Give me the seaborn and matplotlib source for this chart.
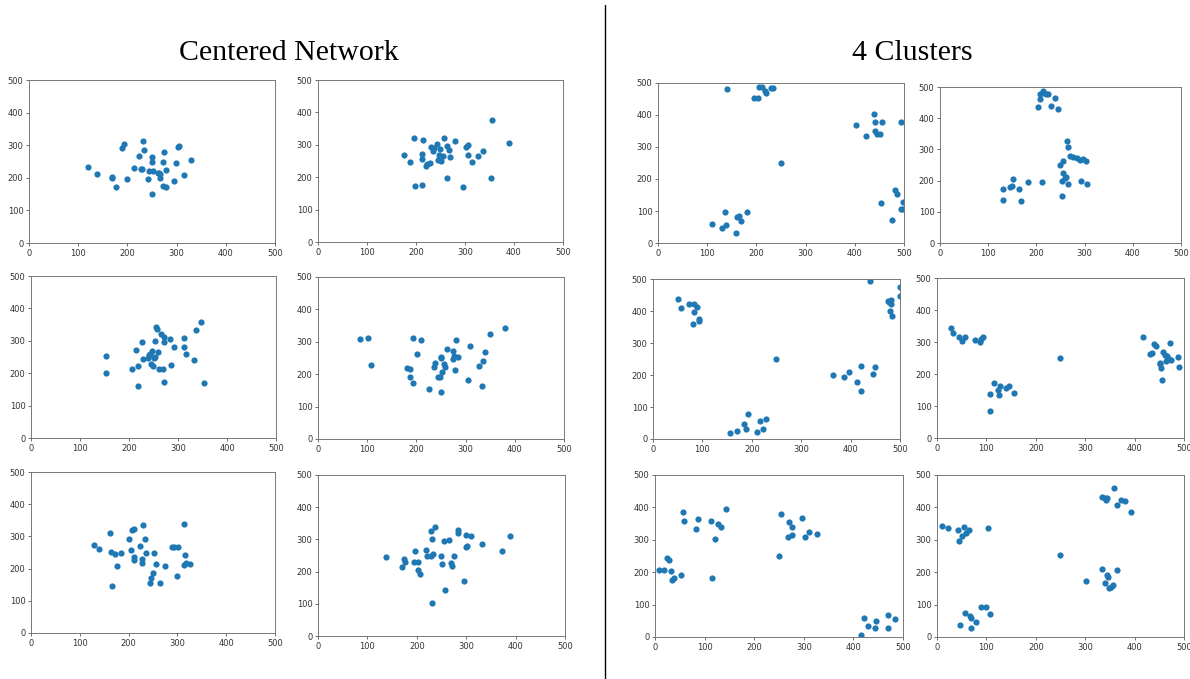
import numpy as np
import pandas as pd
import seaborn as sns
import matplotlib.pyplot as plt
from matplotlib.lines import Line2D

# ---- data (x, y per panel) ----
# Centered Network
cn1_x = [119, 139, 169, 169, 176, 200, 190, 193, 213, 223, 227, 230, 232, 234, 242, 244, 250, 251,
         251, 253, 262, 265, 267, 266, 273, 274, 273, 278, 279, 295, 298, 303, 305, 315, 330]
cn1_y = [233, 211, 203, 199, 172, 195, 291, 303, 231, 268, 227, 227, 314, 284, 195, 220, 149, 263,
         248, 222, 214, 216, 211, 198, 249, 278, 174, 172, 224, 191, 245, 296, 299, 209, 255]
cn2_x = [176, 188, 195, 197, 212, 212, 212, 214, 220, 223, 229, 231, 234, 237, 242, 245, 246, 249,
         252, 255, 258, 263, 264, 268, 270, 279, 296, 303, 307, 306, 314, 326, 336, 354, 356, 390]
cn2_y = [269, 248, 321, 174, 175, 271, 257, 315, 234, 241, 243, 292, 280, 291, 301, 252, 270, 288,
         250, 265, 320, 197, 296, 283, 261, 312, 169, 294, 298, 269, 248, 266, 281, 199, 377, 307]
cn3_x = [154, 153, 206, 214, 218, 218, 227, 228, 238, 240, 242, 245, 247, 248, 251, 253, 253, 255,
         258, 259, 262, 265, 270, 271, 271, 272, 284, 285, 291, 313, 313, 316, 333, 337, 347, 354]
cn3_y = [253, 201, 213, 271, 221, 159, 297, 243, 246, 255, 259, 227, 269, 222, 246, 299, 249, 343,
         336, 265, 214, 321, 214, 312, 297, 172, 305, 225, 282, 308, 280, 260, 241, 333, 359, 170]
cn4_x = [85, 102, 108, 181, 186, 188, 194, 194, 201, 209, 226, 236, 238, 243, 247, 249, 250, 251,
         253, 257, 259, 262, 274, 275, 276, 278, 280, 285, 305, 309, 328, 333, 335, 339, 350, 381]
cn4_y = [309, 311, 229, 218, 216, 192, 173, 311, 263, 305, 155, 221, 235, 192, 192, 250, 253, 144,
         208, 230, 223, 277, 248, 273, 256, 212, 307, 254, 182, 286, 226, 163, 240, 267, 323, 344]
cn5_x = [130, 140, 161, 163, 165, 173, 177, 184, 201, 204, 206, 211, 211, 212, 223, 227, 227, 229,
         234, 236, 244, 246, 251, 253, 256, 264, 275, 288, 294, 300, 302, 313, 315, 314, 317, 326]
cn5_y = [273, 261, 311, 253, 146, 245, 207, 249, 291, 259, 320, 324, 236, 227, 270, 229, 216, 336,
         293, 249, 156, 171, 186, 247, 213, 156, 207, 266, 266, 176, 266, 338, 243, 212, 216, 213]
cn6_x = [138, 170, 175, 176, 195, 197, 203, 203, 206, 219, 221, 228, 229, 231, 231, 233, 237, 249,
         250, 255, 258, 265, 269, 271, 275, 283, 284, 295, 299, 300, 302, 309, 332, 373, 389]
cn6_y = [244, 213, 240, 229, 229, 263, 229, 206, 193, 266, 247, 248, 325, 300, 102, 254, 337, 249,
         225, 295, 144, 299, 228, 218, 247, 328, 320, 172, 314, 275, 280, 312, 285, 264, 310]

# 4 Clusters
kc1_x = [140, 196, 204, 206, 212, 218, 219, 229, 234, 249, 109, 131, 139, 136, 158, 161, 165, 169,
         181, 403, 423, 439, 442, 442, 446, 452, 455, 453, 493, 476, 482, 486, 494, 497, 498]
kc1_y = [480, 453, 453, 487, 489, 475, 469, 484, 484, 251, 59, 46, 55, 96, 31, 80, 84, 69,
         96, 368, 333, 403, 350, 379, 341, 341, 377, 124, 379, 71, 166, 152, 107, 127, 106]
kc2_x = [130, 131, 145, 149, 152, 163, 168, 183, 211, 203, 208, 207, 214, 216, 219, 224, 230, 239,
         244, 248, 254, 254, 256, 256, 259, 262, 265, 264, 265, 269, 275, 284, 290, 293, 297, 302, 306]
kc2_y = [138, 172, 179, 183, 204, 172, 136, 194, 196, 437, 461, 479, 487, 482, 479, 477, 438, 466,
         429, 250, 151, 198, 224, 264, 207, 210, 190, 326, 307, 278, 277, 273, 267, 200, 270, 264, 190]
kc3_x = [51, 56, 72, 84, 89, 84, 80, 93, 94, 155, 171, 184, 189, 192, 210, 217, 222, 228, 248,
         364, 386, 397, 413, 422, 422, 445, 450, 440, 475, 478, 482, 482, 480, 483, 499, 499]
kc3_y = [436, 408, 421, 423, 414, 397, 358, 374, 370, 20, 24, 48, 31, 78, 22, 57, 31, 61, 250,
         200, 195, 209, 179, 227, 149, 202, 224, 494, 431, 428, 434, 422, 400, 384, 475, 448]
kc4_x = [28, 32, 44, 50, 57, 77, 88, 90, 94, 107, 108, 115, 124, 125, 128, 140, 146, 155, 248,
         417, 431, 435, 439, 443, 451, 452, 454, 455, 458, 461, 464, 466, 470, 474, 472, 487, 490]
kc4_y = [345, 328, 317, 303, 316, 305, 299, 308, 317, 85, 136, 171, 150, 135, 164, 157, 164, 141, 251,
         317, 261, 266, 293, 289, 230, 234, 219, 182, 269, 260, 240, 255, 247, 245, 298, 252, 222]
kc5_x = [9, 18, 24, 29, 33, 34, 38, 52, 57, 58, 82, 86, 112, 115, 121, 127, 134, 143, 249,
         254, 268, 271, 277, 277, 296, 302, 311, 327, 415, 421, 430, 443, 445, 469, 469, 484]
kc5_y = [206, 208, 244, 237, 204, 176, 183, 192, 385, 358, 333, 363, 358, 183, 301, 349, 340, 394, 250,
         379, 310, 355, 338, 314, 366, 310, 323, 319, 5, 59, 35, 29, 50, 68, 29, 56]
kc6_x = [11, 23, 42, 45, 50, 55, 59, 65, 104, 46, 57, 66, 69, 69, 79, 89, 99, 108, 249,
         301, 333, 341, 344, 347, 348, 353, 357, 365, 335, 340, 342, 345, 359, 364, 373, 381, 393]
kc6_y = [342, 337, 330, 296, 312, 340, 321, 330, 335, 38, 73, 64, 59, 27, 47, 94, 94, 70, 253,
         174, 211, 168, 191, 184, 151, 155, 160, 208, 432, 428, 423, 428, 460, 407, 424, 421, 386]

TICKS = [0, 100, 200, 300, 400, 500]

# panels: (x, y, left, top, right, bottom) in pixels of the 1190x679 canvas
PANELS = [
    (cn1_x, cn1_y, 29, 80, 275, 243),
    (cn2_x, cn2_y, 318, 80, 563, 242),
    (cn3_x, cn3_y, 31, 276, 276, 438),
    (cn4_x, cn4_y, 318, 277, 564, 439),
    (cn5_x, cn5_y, 31, 472, 275, 633),
    (cn6_x, cn6_y, 318, 475, 565, 636),
    (kc1_x, kc1_y, 658, 83, 904, 243),
    (kc2_x, kc2_y, 940, 87, 1181, 243),
    (kc3_x, kc3_y, 653, 279, 900, 439),
    (kc4_x, kc4_y, 937, 278, 1184, 438),
    (kc5_x, kc5_y, 655, 475, 903, 637),
    (kc6_x, kc6_y, 937, 475, 1184, 637),
]

W, H = 1190, 679

sns.set_style("white")
plt.rcParams["font.family"] = ["DejaVu Sans"]

fig = plt.figure(figsize=(W / 100, H / 100), dpi=100)
fig.patch.set_facecolor("white")

for xs, ys, l, t, r, b in PANELS:
    ax = fig.add_axes([l / W, 1 - b / H, (r - l) / W, (b - t) / H])
    df = pd.DataFrame({"x": xs, "y": ys})
    sns.scatterplot(data=df, x="x", y="y", ax=ax, color="#1f77b4", s=20, linewidth=0)
    ax.set_xlim(0, 500)
    ax.set_ylim(0, 500)
    ax.set_xticks(TICKS)
    ax.set_yticks(TICKS)
    ax.set_xlabel("")
    ax.set_ylabel("")
    ax.tick_params(labelsize=6, length=2.5, width=0.6, color="#555555",
                   labelcolor="#333333", pad=1.5, left=True, bottom=True)
    for sp in ax.spines.values():
        sp.set_visible(True)
        sp.set_color("#777777")
        sp.set_linewidth(0.7)

title_font = ["Liberation Serif", "DejaVu Serif"]
fig.text(289 / W, 1 - 53 / H, "Centered Network", ha="center", va="center",
         fontsize=21.5, color="black", family=title_font)
fig.text(912 / W, 1 - 53 / H, "4 Clusters", ha="center", va="center",
         fontsize=21.5, color="black", family=title_font)

fig.add_artist(Line2D([605 / W, 605 / W], [1 - 5 / H, 0], transform=fig.transFigure,
                      color="black", linewidth=1))

fig.savefig("out.png", dpi=100, facecolor="white")
